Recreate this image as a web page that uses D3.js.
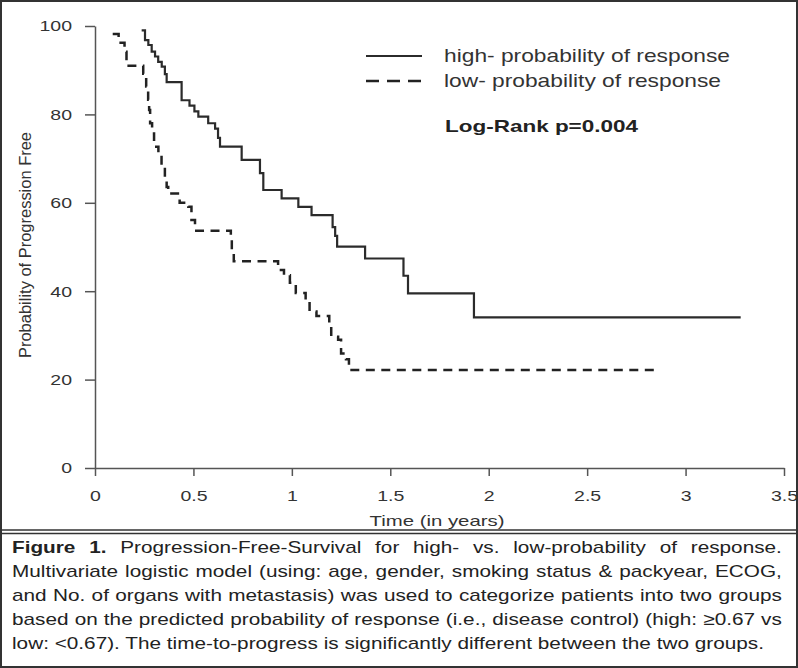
<!DOCTYPE html>
<html><head><meta charset="utf-8">
<script src="https://cdn.jsdelivr.net/npm/d3@7/dist/d3.min.js"></script>
<style>
html,body{margin:0;padding:0;background:#fff;}
svg{display:block;}
text{font-family:"Liberation Sans",Arial,sans-serif;}
</style></head>
<body>
<svg id="c" width="798" height="668"></svg>
<script>
// ---- data ----
const highTimes = [0.237,0.254,0.271,0.288,0.305,0.321,0.339,0.355,0.364,0.44,0.48,0.505,0.525,0.575,0.61,0.625,0.635,0.745,0.838,0.855,0.948,1.033,1.10,1.207,1.22,1.23,1.372,1.567,1.59,1.925,3.28];
const highSurv  = [99.0,96.8,95.7,94.2,93.1,91.9,90.8,89.1,87.3,83.2,82.0,80.7,79.5,78.0,76.8,74.7,72.7,69.7,66.7,62.9,61.0,59.1,57.2,54.5,52.5,50.1,47.4,43.5,39.5,34.1,34.1];
const lowTimes  = [0.09,0.12,0.15,0.16,0.245,0.26,0.27,0.275,0.28,0.29,0.30,0.322,0.338,0.355,0.364,0.372,0.43,0.474,0.49,0.508,0.69,0.695,0.705,0.93,0.96,0.99,1.02,1.07,1.09,1.125,1.19,1.20,1.235,1.25,1.275,1.29,2.85];
const lowSurv   = [98.2,96.2,94.2,91.0,89.2,86.3,83.3,81.0,78.0,75.7,72.7,71.2,68.2,65.5,63.6,62.1,60.0,59.1,56.1,53.7,51.8,49.3,46.8,44.8,43.6,41.9,39.6,38.0,35.4,34.4,32.7,29.7,29.0,25.9,24.6,22.2,22.2];
const xTicks = [0,0.5,1,1.5,2,2.5,3,3.5];
const yTicks = [0,20,40,60,80,100];
const seriesNames = ["high- probability of response","low- probability of response"];
const statText = "Log-Rank p=0.004";
const xTitle = "Time (in years)";
const yTitle = "Probability of Progression Free";
const captionLines = [
  "Progression-Free-Survival for high- vs. low-probability of response.",
  "Multivariate logistic model (using: age, gender, smoking status & packyear, ECOG,",
  "and No. of organs with metastasis) was used to categorize patients into two groups",
  "based on the predicted probability of response (i.e., disease control) (high: \u22650.67 vs",
  "low: <0.67). The time-to-progress is significantly different between the two groups."
];
const captionLead = "Figure 1.";

// ---- drawing ----
const svg = d3.select("#c");
svg.append("rect").attr("x",0).attr("y",0).attr("width",798).attr("height",668).attr("fill","#fff");

const x = d3.scaleLinear().domain([0,3.5]).range([95,784]);
const y = d3.scaleLinear().domain([0,100]).range([468,26]);
const STRETCH = 1.3;

// axes
const gy = svg.append("g").attr("transform","translate(95,0)")
  .call(d3.axisLeft(y).tickValues(yTicks).tickSize(10).tickSizeOuter(0).tickPadding(13));
const gx = svg.append("g").attr("transform","translate(0,468)")
  .call(d3.axisBottom(x).tickValues(xTicks).tickFormat(d=>String(d)).tickSize(8).tickSizeOuter(0).tickPadding(14));
[gx,gy].forEach(g=>{
  g.select(".domain").attr("stroke","#555").attr("stroke-width",1.5);
  g.selectAll(".tick line").attr("stroke","#555").attr("stroke-width",1.5);
  g.selectAll(".tick text").attr("font-family","Liberation Sans, Arial, sans-serif")
    .attr("font-size",15).attr("fill","#333")
    .each(function(){ const w=this.getComputedTextLength(); d3.select(this).attr("textLength",w*STRETCH).attr("lengthAdjust","spacingAndGlyphs"); });
});

// axis titles
svg.append("text").attr("x",437).attr("y",526).attr("text-anchor","middle")
  .attr("font-size",15).attr("fill","#333").attr("textLength",135).attr("lengthAdjust","spacingAndGlyphs").text(xTitle);
svg.append("text").attr("transform","translate(31,245) rotate(-90)").attr("text-anchor","middle")
  .attr("font-size",16).attr("fill","#333").attr("textLength",226).attr("lengthAdjust","spacingAndGlyphs").text(yTitle);

// curves
const line = d3.line().x(d=>x(d[0])).y(d=>y(d[1])).curve(d3.curveStepAfter);
svg.append("path").datum(highTimes.map((t,i)=>[t,highSurv[i]]))
  .attr("d",line).attr("fill","none").attr("stroke","#2b2b2b").attr("stroke-width",2.2);
svg.append("path").datum(lowTimes.map((t,i)=>[t,lowSurv[i]]))
  .attr("d",line).attr("fill","none").attr("stroke","#222").attr("stroke-width",2.5)
  .attr("stroke-dasharray","9,6.5");

// legend
const leg = svg.append("g");
leg.append("line").attr("x1",366).attr("x2",422).attr("y1",56).attr("y2",56).attr("stroke","#2b2b2b").attr("stroke-width",2.2);
leg.append("line").attr("x1",366).attr("x2",422).attr("y1",81).attr("y2",81).attr("stroke","#222").attr("stroke-width",2.5).attr("stroke-dasharray","13,8");
leg.append("text").attr("x",444).attr("y",62).attr("font-size",19).attr("fill","#333")
  .attr("textLength",286).attr("lengthAdjust","spacingAndGlyphs").text(seriesNames[0]);
leg.append("text").attr("x",444).attr("y",87).attr("font-size",19).attr("fill","#333")
  .attr("textLength",277).attr("lengthAdjust","spacingAndGlyphs").text(seriesNames[1]);
leg.append("text").attr("x",445).attr("y",132).attr("font-size",17).attr("font-weight","bold").attr("fill","#222")
  .attr("textLength",193).attr("lengthAdjust","spacingAndGlyphs").text(statText);

// frame and separator
svg.append("rect").attr("x",1).attr("y",1).attr("width",796).attr("height",666)
  .attr("fill","none").attr("stroke","#333").attr("stroke-width",2);
svg.append("line").attr("x1",0).attr("x2",798).attr("y1",530).attr("y2",530).attr("stroke","#333").attr("stroke-width",1.5);
svg.append("line").attr("x1",0).attr("x2",798).attr("y1",533.5).attr("y2",533.5).attr("stroke","#333").attr("stroke-width",1.5);

// caption (justified)
const capLeft = 12, capRight = 782, capTarget = capRight - capLeft;
const capBase = [553,577,601,625,649];
const capSize = 17;
const capTexts = captionLines.map((ln,i)=>{
  const t = svg.append("text").attr("font-size",capSize).attr("fill","#222");
  if(i===0) t.append("tspan").attr("font-weight","bold").text(captionLead+" ");
  t.append("tspan").text(ln);
  const full = (i===0 ? captionLead+" " : "") + ln;
  return {t, W:t.node().getComputedTextLength(), n:(full.trim().match(/ /g)||[]).length};
});
// horizontal scale taken from the tightest line (line 2), slight extra spacing allowance
const capS = (capTarget - 12) / capTexts[1].W;
capTexts.forEach((c,i)=>{
  let s = capS, ws = 0;
  if(i < capTexts.length-1){
    s = Math.min(capS, capTarget / c.W);
    ws = (capTarget/s - c.W)/c.n;
  }
  c.t.style("word-spacing", ws+"px")
   .attr("transform",`translate(${capLeft},${capBase[i]}) scale(${s},1)`);
});
</script>
</body></html>
